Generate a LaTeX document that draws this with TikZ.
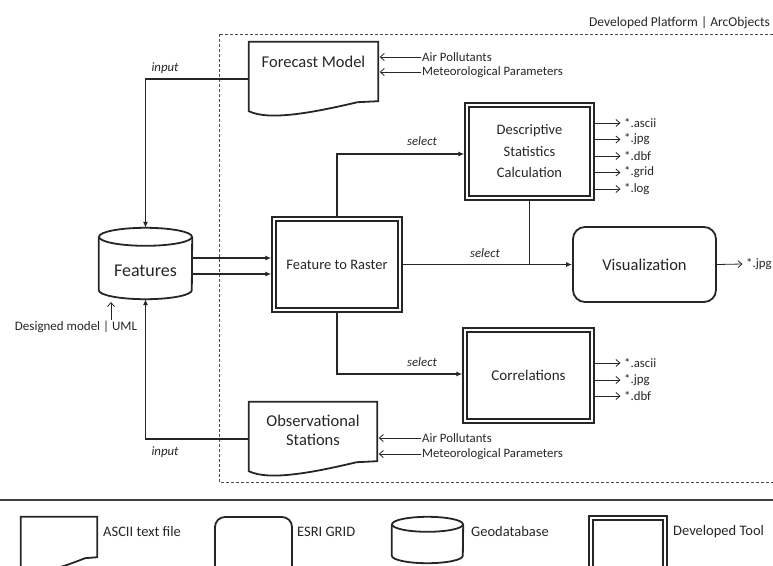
\documentclass[tikz,border=0pt]{standalone}
\usepackage{fontspec}
\setmainfont{Carlito}
\usetikzlibrary{arrows.meta,calc}
\newcommand\fs[1]{\fontsize{#1}{#1}\selectfont}
\newcommand\docoutline[1]{%
  \draw[shapeline] (#1.north west) -- (#1.north east) -- ($(#1.south east)+(0,-10)$)
    -- ($(#1.south west)!0.84!(#1.south east)+(0,-9)$)
    .. controls ($(#1.south west)!0.51!(#1.south east)+(0,1)$) and ($(#1.south west)!0.16!(#1.south east)+(0,10)$) .. (#1.south west) -- cycle;}
\newcommand\cyloutline[3]{%
  \draw[shapeline] ($(#1.north)+(0,#3)$) ellipse [x radius=#2pt, y radius=#3pt];
  \draw[shapeline] ($(#1.north west)+(0,#3)$) -- ($(#1.south west)+(0,-#3)$)
    arc[start angle=180, end angle=360, x radius=#2pt, y radius=#3pt] -- ($(#1.north east)+(0,#3)$);}
\begin{document}
\begin{tikzpicture}[x=1pt,y=-1pt,
  every node/.style={text=black!85},
  shapeline/.style={line width=1.8pt, black!85},
  conn/.style={line width=1.8pt, black!85, -{Latex[length=6pt,width=5pt]}},
  plain/.style={line width=1.8pt, black!85},
  thinarrow/.style={line width=0.8pt, black!85, -{Straight Barb[length=4pt,width=7pt]}},
  small/.style={font=\fs{12.8}, inner sep=1pt},
  lbl/.style={font=\fs{12.8}\itshape, inner sep=1pt},
  legtext/.style={font=\fs{14.5}, anchor=west, inner sep=1pt},
  tool/.style={draw=black!85, double, double distance=2.4pt, line width=1.5pt, inner sep=0pt, outer sep=2.7pt, align=center},
  gridbox/.style={draw=black!85, rounded corners=12pt, line width=1.8pt, inner sep=0pt, align=center},
  docbox/.style={inner sep=0pt, align=center},
  cylbox/.style={inner sep=0pt, align=center},
  frame/.style={dash pattern=on 3pt off 2pt, line width=1pt, black!70}
]
\useasboundingbox (0,0) rectangle (773,565);

% platform frame
\draw[frame] (219,34) rectangle (778,482);
\node[anchor=east, font=\fs{13.5}, inner sep=0pt] (plat) at (770,23) {Developed Platform | ArcObjects};

% forecast model
\node[docbox, minimum width=129pt, minimum height=69pt, font=\fs{16.5}, text height=12pt, text depth=31pt] (fm) at (313.5,76.5) {Forecast Model};
\docoutline{fm}
\node[small, anchor=west] (fm1) at (421,57) {Air Pollutants};
\node[small, anchor=west] (fm2) at (421,72) {Meteorological Parameters};
\draw[thinarrow] (fm1.west) -- ([xshift=1.5pt]fm1.west -| fm.east);
\draw[thinarrow] (fm2.west) -- ([xshift=1.5pt]fm2.west -| fm.east);

% observational stations
\node[docbox, minimum width=128pt, minimum height=69pt, font=\fs{16.5}, text height=30pt, text depth=12pt] (obs) at (313,436.5) {Observational\\[3pt]Stations};
\docoutline{obs}
\node[small, anchor=west] (ob1) at (421,438) {Air Pollutants};
\node[small, anchor=west] (ob2) at (421,454) {Meteorological Parameters};
\draw[thinarrow] (ob1.west) -- ([xshift=1.5pt]ob1.west -| obs.east);
\draw[thinarrow] (ob2.west) -- ([xshift=1.5pt]ob2.west -| obs.east);

% features
\node[cylbox, minimum width=93pt, minimum height=71pt, font=\fs{18}, text height=25pt, text depth=0pt] (feat) at (145.5,263.5) {Features};
\cyloutline{feat}{46.5}{9}
\node[font=\fs{13}, inner sep=1pt] (uml) at (76,327) {Designed model | UML};
\coordinate (umltip) at (111,302);
\draw[thinarrow] (uml.north -| umltip) -- (umltip);

% tools
\node[tool, minimum width=126pt, minimum height=91pt, font=\fs{14.5}] (f2r) at (337,264.5) {Feature to Raster};
\node[tool, minimum width=125pt, minimum height=93pt, font=\fs{14.5}] (desc) at (529.5,151.5) {Descriptive\\[7pt]Statistics\\[7pt]Calculation};
\node[tool, minimum width=127pt, minimum height=91pt, font=\fs{15}] (corr) at (528.5,375.5) {Correlations};
\node[gridbox, minimum width=143pt, minimum height=75pt, font=\fs{16.5}] (vis) at (644.5,264.5) {Visualization};

% connectors
\draw[conn] ([yshift=-2.5pt]fm.west) -| (feat.north);
\draw[conn] ([yshift=-2.5pt]obs.west) -| (feat.south);
\node[lbl] (in1) at (165,68) {input};
\node[lbl] (in2) at (165,452) {input};
\draw[conn] ($(feat.east)+(0,-5.5)$) coordinate (a1) -- (a1 -| f2r.west);
\draw[conn] ($(feat.east)+(0,10.5)$) coordinate (a2) -- (a2 -| f2r.west);
\draw[conn] (f2r.north) |- ([yshift=-2.5pt]desc.west);
\draw[conn] (f2r.south) |- ([yshift=1.5pt]corr.west);
\draw[conn] (f2r.east) -- (vis.west);
\draw[plain] (desc.south) -- (desc.south |- vis.west);
\node[lbl] (s1) at (422,141) {select};
\node[lbl] (s2) at (485,253) {select};
\node[lbl] (s3) at (422,362) {select};

% outputs
\node[small, anchor=west] (vj) at (745,264) {*.jpg};
\draw[thinarrow] (vis.east) -- ([xshift=-2.5pt]vj.west);
\foreach \n/\t/\y in {d1/*.ascii/123, d2/*.jpg/139.5, d3/*.dbf/156, d4/*.grid/172.5, d5/*.log/189}{
  \node[small, anchor=west] (\n) at (623,\y) {\t};
  \draw[thinarrow] (\n.west -| desc.east) -- ([xshift=-2.5pt]\n.west);
}
\foreach \n/\t/\y in {c1/*.ascii/363, c2/*.jpg/380, c3/*.dbf/396}{
  \node[small, anchor=west] (\n) at (623,\y) {\t};
  \draw[thinarrow] (\n.west -| corr.east) -- ([xshift=-2.5pt]\n.west);
}

% separator
\draw[line width=1.6pt, black!75] (0,500) -- (773,500);

% legend
\node[docbox, minimum width=76pt, minimum height=50pt] (ldoc) at (59,542) {};
\docoutline{ldoc}
\node[legtext] (ltdoc) at (102,532) {ASCII text file};
\node[gridbox, minimum width=77pt, minimum height=62pt, rounded corners=10pt] (lgrid) at (253.5,548) {};
\node[legtext] (ltgrid) at (296,532) {ESRI GRID};
\node[cylbox, minimum width=71pt, minimum height=46pt] (ldb) at (427.5,540) {};
\cyloutline{ldb}{35.5}{7.5}
\node[legtext] (ltdb) at (470,532) {Geodatabase};
\node[tool, minimum width=74pt, minimum height=70pt] (ltool) at (628,553) {};
\node[legtext] (lttool) at (672,532) {Developed Tool};
\end{tikzpicture}
\end{document}
